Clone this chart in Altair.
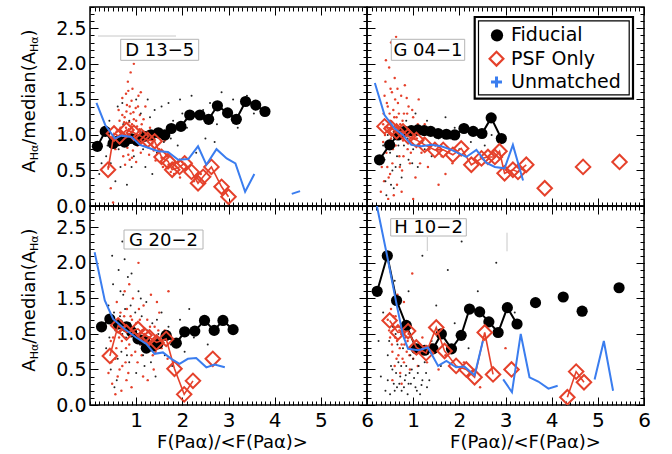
import altair as alt
import pandas as pd

FONT = "DejaVu Sans"
RED = "#e5412b"
BLUE = "#3a7def"
DOT_BLACK = "#222222"

# ---------------- data: D 13-5 ----------------
D135_fid_x = [0.16, 0.33, 0.50, 0.62, 0.75, 0.88, 1.02, 1.17, 1.32, 1.48, 1.62, 1.76, 1.97, 2.16, 2.38, 2.57, 2.76, 2.98, 3.17, 3.37, 3.59, 3.79]
D135_fid_y = [0.84, 1.05, 0.88, 0.92, 0.90, 0.95, 0.92, 0.98, 1.00, 1.03, 1.00, 1.09, 1.12, 1.28, 1.28, 1.22, 1.41, 1.31, 1.22, 1.47, 1.42, 1.33]
D135_psf_x = [0.39, 0.52, 0.64, 0.79, 0.95, 1.11, 1.25, 1.40, 1.55, 1.69, 1.78, 1.94, 2.05, 2.20, 2.34, 2.45, 2.63, 2.85, 3.00]
D135_psf_y = [0.51, 1.02, 0.98, 1.07, 1.03, 0.98, 0.93, 0.91, 0.69, 0.63, 0.51, 0.55, 0.60, 0.48, 0.32, 0.41, 0.55, 0.27, 0.13]
D135_unm_x = [0.14, 0.33, 0.54, 0.68, 0.90, 1.08, 1.26, 1.48, 1.69, 1.91, 2.13, 2.34, 2.52, 2.74, 2.96, 3.15, 3.36, 3.56, None, 4.37, 4.55]
D135_unm_y = [1.45, 1.14, 0.95, 0.99, 0.97, 0.86, 0.82, 0.77, 0.76, 0.65, 0.66, 0.84, 0.58, 0.80, 0.67, 0.60, 0.20, 0.45, None, 0.17, 0.21]
D135_red = [(0.62, 1.35), (0.70, 1.52), (0.75, 1.25), (0.78, 1.10), (0.80, 1.42), (0.83, 1.62), (0.85, 1.18), (0.87, 0.95),
            (0.88, 1.30), (0.90, 1.48), (0.92, 1.05), (0.95, 1.22), (0.97, 0.88), (0.99, 1.38), (1.02, 1.12), (1.05, 0.98),
            (1.08, 1.28), (1.10, 0.75), (1.12, 1.15), (1.15, 1.02), (0.68, 0.92), (0.72, 0.70), (0.76, 0.58), (0.81, 0.82),
            (0.86, 0.65), (0.93, 0.78), (1.00, 0.62), (1.18, 0.85), (1.22, 0.95), (1.28, 0.72), (1.35, 0.88), (1.42, 0.64),
            (1.50, 0.80), (1.58, 0.55), (1.65, 0.70), (1.75, 0.48), (1.85, 0.62), (1.95, 0.40), (2.10, 0.55), (2.25, 0.35),
            (2.40, 0.45), (0.82, 1.75), (0.95, 2.00), (0.88, 1.88), (1.05, 1.55), (0.58, 1.05), (0.64, 1.20), (0.55, 0.80),
            (0.40, 0.55), (0.45, 0.25), (0.50, 0.05), (1.20, 1.40), (1.30, 1.10), (1.45, 1.00), (0.73, 1.02), (0.79, 1.33),
            (0.91, 1.15), (1.03, 0.85), (0.74, 1.18), (0.77, 0.98), (0.84, 1.08), (0.86, 1.40), (0.89, 1.12), (0.94, 1.32),
            (0.96, 1.00), (1.00, 1.20), (1.04, 1.40), (1.07, 1.08), (1.13, 0.90), (1.16, 1.22), (0.70, 1.28), (0.66, 1.10),
            (0.60, 0.90), (0.83, 0.72), (0.91, 0.68), (1.25, 1.05), (1.38, 0.78), (1.55, 0.68), (1.62, 0.92), (1.70, 0.58),
            (1.82, 0.45), (2.00, 0.62), (0.78, 1.58), (0.92, 1.65), (1.10, 1.60)]
D135_blk = [(0.20, 0.45), (0.30, 1.00), (0.35, 0.70), (0.42, 1.20), (0.48, 0.95), (0.55, 0.35), (0.60, 1.40), (0.66, 0.55),
            (0.72, 1.15), (0.80, 0.30), (0.90, 0.55), (1.00, 1.50), (1.10, 1.30), (1.20, 0.55), (1.30, 1.25), (1.40, 1.35),
            (1.50, 1.05), (1.60, 0.90), (1.70, 1.45), (1.80, 1.20), (1.90, 0.85), (2.00, 1.30), (2.10, 1.10), (2.20, 1.55),
            (2.35, 1.25), (2.50, 0.95), (2.60, 1.45), (2.75, 1.15), (2.85, 1.60), (3.00, 1.35), (3.20, 1.10), (3.40, 1.55),
            (3.55, 1.30), (1.35, 0.45), (0.25, 0.60), (0.38, 0.85), (0.45, 0.60), (0.62, 0.80), (0.70, 1.45), (0.85, 1.20),
            (0.95, 0.70), (1.05, 1.05), (1.15, 0.80), (1.25, 1.50), (1.45, 0.75), (1.55, 1.40), (1.75, 0.95), (1.95, 1.50),
            (2.30, 0.75), (2.45, 1.35), (2.70, 0.90), (3.10, 1.50)]

# ---------------- data: G 04-1 ----------------
G041_fid_x = [0.27, 0.49, 0.67, 0.82, 0.96, 1.10, 1.24, 1.38, 1.54, 1.72, 1.90, 2.10, 2.30, 2.49, 2.69, 2.91]
G041_fid_y = [0.65, 0.86, 1.00, 1.05, 1.06, 1.07, 1.06, 1.05, 1.02, 1.01, 1.00, 1.09, 1.05, 1.02, 1.24, 0.95]
G041_psf_x = [0.38, 0.53, 0.64, 0.78, 0.89, 1.07, 1.25, 1.47, 1.65, 1.86, 2.04, 2.26, 2.48, 2.62, 2.77, 2.87, 2.98, 3.16, 3.27, 3.45, None, 3.85, None, 4.68, None, 5.47]
G041_psf_y = [1.12, 1.09, 1.05, 1.05, 0.98, 0.93, 0.86, 0.79, 0.79, 0.72, 0.81, 0.58, 0.67, 0.69, 0.69, 0.77, 0.46, 0.51, 0.48, 0.58, None, 0.25, None, 0.55, None, 0.62]
G041_unm_x = [0.17, 0.38, 0.60, 0.78, 0.96, 1.18, 1.39, 1.61, 1.83, 2.15, 2.37, 2.58, 2.77, 2.98, 3.16, 3.38]
G041_unm_y = [1.73, 1.28, 1.09, 1.00, 0.86, 0.84, 0.86, 0.84, 0.79, 0.69, 0.79, 0.61, 0.55, 0.53, 0.86, 0.36]
G041_red = [(0.30, 0.20), (0.32, 0.55), (0.35, 0.90), (0.36, 1.30), (0.38, 1.55), (0.40, 1.75), (0.42, 0.75), (0.44, 1.10),
            (0.45, 1.40), (0.47, 0.40), (0.48, 1.95), (0.50, 1.20), (0.52, 0.95), (0.54, 1.60), (0.55, 0.60), (0.57, 1.35),
            (0.58, 1.05), (0.60, 1.80), (0.62, 0.85), (0.64, 1.25), (0.65, 0.30), (0.67, 1.45), (0.68, 1.00), (0.70, 0.70),
            (0.72, 1.15), (0.74, 1.55), (0.76, 0.50), (0.78, 0.92), (0.80, 1.30), (0.82, 1.70), (0.85, 1.05), (0.88, 0.80),
            (0.90, 1.40), (0.93, 0.60), (0.96, 1.10), (1.00, 1.25), (1.05, 0.40), (1.08, 0.95), (1.12, 1.50), (1.18, 0.75),
            (1.25, 1.15), (1.32, 0.55), (1.40, 1.00), (1.48, 0.85), (1.55, 0.30), (1.62, 0.70), (1.70, 0.45), (1.85, 0.60),
            (0.41, 2.05), (0.52, 2.30), (0.63, 2.38), (0.46, 0.10), (0.58, 0.15), (0.75, 0.20), (1.00, 0.10), (0.86, 1.52),
            (0.66, 1.65), (0.35, 1.15), (0.39, 1.00), (0.43, 1.45), (0.46, 0.85), (0.49, 1.30), (0.51, 1.65), (0.53, 1.10),
            (0.56, 0.80), (0.59, 1.25), (0.61, 1.50), (0.63, 1.10), (0.66, 0.95), (0.69, 1.30), (0.71, 0.55), (0.73, 0.95),
            (0.77, 1.20), (0.79, 0.70), (0.83, 1.00), (0.87, 1.30), (0.91, 0.90), (0.95, 0.75), (0.98, 1.35), (1.03, 0.95),
            (1.10, 1.15), (1.15, 0.60), (1.22, 0.95), (1.35, 0.80), (0.37, 0.35), (0.44, 0.55), (0.50, 0.45)]
G041_blk = [(0.30, 0.60), (0.35, 0.85), (0.40, 0.35), (0.45, 1.00), (0.50, 0.75), (0.55, 0.50), (0.60, 0.95), (0.65, 0.70),
            (0.70, 1.10), (0.75, 0.40), (0.80, 0.85), (0.85, 1.20), (0.90, 0.65), (0.95, 1.00), (1.00, 0.80), (1.05, 1.30),
            (1.10, 0.55), (1.15, 1.10), (1.20, 0.90), (1.30, 1.20), (1.40, 0.70), (1.50, 1.05), (1.60, 0.85), (1.70, 1.25),
            (1.80, 0.95), (1.90, 1.10), (2.00, 0.80), (2.10, 1.15), (2.25, 0.90), (2.40, 1.05), (2.55, 0.85), (2.70, 1.00),
            (0.58, 0.25), (0.72, 0.58), (0.38, 0.65), (0.48, 1.15), (0.52, 0.30), (0.62, 0.55), (0.68, 0.85), (0.78, 1.05),
            (0.88, 0.95), (0.98, 0.60), (1.08, 1.00), (1.25, 0.80), (1.35, 1.00), (1.55, 0.95), (1.75, 1.05), (2.20, 1.10),
            (0.42, 0.15)]

# ---------------- data: G 20-2 ----------------
G202_fid_x = [0.25, 0.43, 0.61, 0.79, 0.90, 1.04, 1.18, 1.22, 1.36, 1.47, 1.65, 1.87, 2.05, 2.27, 2.48, 2.69, 2.88, 3.10]
G202_fid_y = [1.10, 1.21, 1.14, 1.10, 1.03, 0.93, 0.91, 0.80, 0.83, 0.86, 0.98, 0.87, 1.03, 1.04, 1.19, 1.05, 1.19, 1.06]
G202_psf_x = [0.43, 0.61, 0.79, 1.04, 1.18, 1.29, 1.44, 1.65, 1.83, 2.04, 2.23, None, 2.66]
G202_psf_y = [0.69, 1.12, 1.02, 1.07, 0.98, 0.95, 0.88, 0.93, 0.51, 0.15, 0.34, None, 0.65]
G202_unm_x = [0.10, 0.32, 0.50, 0.75, 1.00, 1.22, 1.40, 1.58, 1.76, 1.94, 2.12, 2.30, 2.52, 2.70, 2.92]
G202_unm_y = [2.15, 1.47, 1.21, 1.07, 0.95, 0.86, 0.72, 0.74, 0.65, 0.58, 0.65, 0.66, 0.53, 0.57, 0.53]
G202_red = [(0.40, 0.45), (0.45, 0.90), (0.48, 0.30), (0.52, 1.20), (0.55, 0.65), (0.58, 1.45), (0.60, 0.40), (0.63, 0.95),
            (0.66, 1.30), (0.70, 0.55), (0.72, 1.10), (0.75, 1.60), (0.78, 0.80), (0.80, 1.35), (0.83, 0.45), (0.86, 1.05),
            (0.88, 1.25), (0.90, 0.70), (0.93, 1.50), (0.96, 0.95), (1.00, 1.15), (1.03, 0.60), (1.06, 1.35), (1.10, 0.85),
            (1.13, 1.05), (1.16, 1.40), (1.20, 0.75), (1.24, 1.20), (1.28, 0.95), (1.32, 1.55), (1.36, 0.70), (1.40, 1.10),
            (1.45, 0.90), (1.50, 1.30), (1.55, 0.80), (1.62, 1.05), (1.68, 0.65), (1.75, 0.95), (1.70, 1.60), (1.05, 2.00),
            (0.85, 1.70), (0.68, 0.20), (0.90, 0.25), (1.15, 0.40), (0.55, 0.15), (1.38, 0.50), (1.25, 0.35), (0.50, 0.95),
            (0.57, 0.80), (0.62, 1.10), (0.69, 0.90), (0.74, 1.25), (0.77, 0.60), (0.82, 1.05), (0.85, 0.85), (0.91, 1.20),
            (0.98, 0.75), (1.02, 1.00), (1.08, 1.20), (1.12, 0.70), (1.18, 1.00), (1.22, 0.85), (1.30, 1.10), (1.34, 0.85),
            (1.42, 0.75), (1.48, 1.05), (1.58, 0.95), (0.46, 0.60), (0.64, 0.50), (0.79, 0.35), (1.45, 1.45)]
G202_blk = [(0.35, 0.80), (0.40, 1.40), (0.45, 0.50), (0.50, 1.70), (0.55, 1.05), (0.58, 0.35), (0.62, 1.90), (0.65, 1.25),
            (0.68, 0.75), (0.72, 1.55), (0.75, 2.05), (0.78, 0.95), (0.82, 1.80), (0.85, 0.60), (0.88, 1.40), (0.92, 2.25),
            (0.95, 1.10), (1.00, 0.45), (1.05, 1.60), (1.08, 0.85), (1.12, 1.25), (1.18, 0.55), (1.22, 1.45), (1.28, 0.80),
            (1.35, 1.15), (1.42, 0.40), (1.48, 1.00), (1.55, 1.30), (1.62, 0.70), (1.70, 1.10), (1.78, 0.55), (1.85, 0.90),
            (1.95, 1.20), (2.05, 0.75), (2.15, 1.35), (2.25, 0.95), (2.40, 1.15), (2.55, 0.85), (0.30, 1.10), (0.48, 2.10),
            (0.42, 0.95), (0.52, 1.30), (0.60, 0.65), (0.66, 1.60), (0.70, 1.00), (0.76, 1.35), (0.80, 0.70), (0.86, 1.15),
            (0.90, 1.85), (0.98, 1.30), (1.02, 0.90), (1.10, 1.50), (1.15, 0.70), (1.25, 1.05), (1.32, 0.60), (1.45, 1.20),
            (1.60, 1.00), (1.75, 0.85), (0.53, 0.25), (0.70, 2.30)]

# ---------------- data: H 10-2 ----------------
H102_fid_x = [0.22, 0.44, 0.64, 0.85, 1.07, 1.25, 1.43, 1.61, 1.83, 2.04, 2.22, 2.44, 2.64, 2.84, 3.04, 3.25, None, 3.65, None, 4.25, None, 4.66, None, 5.46]
H102_fid_y = [1.60, 2.10, 1.47, 1.12, 0.79, 0.77, 0.79, 1.00, 0.79, 0.98, 1.35, 1.31, 1.17, 1.02, 1.37, 1.14, None, 1.44, None, 1.52, None, 1.32, None, 1.65]
H102_psf_x = [0.49, 0.67, 0.89, 1.07, 1.28, 1.50, 1.68, 1.93, 2.15, 2.33, 2.55, 2.73, None, 3.13, None, 4.34, 4.53, 4.70]
H102_psf_y = [1.19, 1.02, 1.04, 0.81, 0.73, 1.09, 0.76, 0.55, 0.50, 0.39, 1.02, 0.43, None, 0.50, None, 0.11, 0.47, 0.32]
H102_unm_x = [0.14, 0.24, 0.42, 0.64, 0.78, 0.89, 1.11, 1.32, 1.54, 1.72, 1.93, 2.11, 2.33, 2.51, None, 2.95, 3.14, 3.33, 3.52, 3.71, 3.93, 4.13, None, 4.93, 5.13, 5.33]
H102_unm_y = [3.04, 2.72, 2.15, 1.42, 0.98, 0.79, 0.77, 0.81, 0.55, 0.62, 0.53, 0.54, 0.42, 0.90, None, 0.36, 0.18, 1.00, 0.39, 0.33, 0.23, 0.27, None, 0.36, 0.90, 0.20]
H102_red = [(0.45, 1.20), (0.50, 0.95), (0.52, 1.35), (0.55, 0.75), (0.58, 1.10), (0.60, 0.55), (0.62, 1.25), (0.65, 0.90),
            (0.68, 0.70), (0.70, 1.05), (0.72, 0.45), (0.75, 0.85), (0.78, 1.15), (0.80, 0.60), (0.83, 0.95), (0.86, 0.75),
            (0.90, 1.00), (0.93, 0.50), (0.96, 0.80), (1.00, 0.65), (1.05, 0.90), (1.10, 0.55), (1.15, 0.75), (1.20, 0.95),
            (1.30, 0.60), (1.40, 0.85), (1.55, 0.50), (1.70, 0.70), (0.66, 1.55), (0.80, 1.45), (0.98, 1.85), (1.20, 2.40),
            (2.10, 0.60), (2.45, 0.25), (3.00, 0.80), (0.55, 0.35), (0.75, 0.30), (0.48, 1.05), (0.54, 0.85), (0.57, 1.25),
            (0.61, 0.95), (0.64, 0.65), (0.67, 1.10), (0.71, 0.80), (0.74, 1.00), (0.77, 0.65), (0.81, 0.85), (0.88, 0.90),
            (0.92, 0.70), (1.02, 0.80), (1.12, 0.85)]
H102_blk = [(0.25, 0.90), (0.30, 0.40), (0.35, 1.30), (0.40, 0.20), (0.45, 0.70), (0.50, 0.15), (0.55, 0.50), (0.58, 0.30),
            (0.62, 1.00), (0.65, 0.25), (0.68, 0.60), (0.72, 0.40), (0.75, 0.20), (0.78, 0.80), (0.82, 0.35), (0.85, 0.55),
            (0.88, 0.15), (0.92, 0.45), (0.95, 0.30), (1.00, 0.65), (1.05, 0.25), (1.10, 0.45), (1.15, 0.15), (1.20, 0.35),
            (1.25, 0.60), (1.30, 0.25), (1.40, 0.90), (1.50, 1.40), (1.60, 0.55), (1.75, 1.90), (1.90, 1.15), (2.05, 2.30),
            (2.20, 0.80), (2.40, 1.60), (2.80, 2.00), (3.20, 1.30), (0.90, 1.60), (1.20, 2.10), (0.60, 1.75), (0.45, 0.35),
            (0.52, 0.55), (0.60, 0.20), (0.63, 0.45), (0.70, 0.30), (0.74, 0.55), (0.80, 0.25), (0.84, 0.42), (0.90, 0.30),
            (0.97, 0.50), (1.02, 0.38), (1.08, 0.20), (1.12, 0.55), (1.18, 0.28), (1.28, 0.45), (0.48, 0.90), (0.56, 1.10),
            (0.66, 0.85), (0.94, 0.70), (1.35, 0.35)]

# ---------------- ticks / labels ----------------
X_LABEL_TICKS = [1, 2, 3, 4, 5, 6]
X_MINOR = [i / 10 for i in range(61)]
Y_LABEL_TICKS = [0.0, 0.5, 1.0, 1.5, 2.0, 2.5]
Y_MINOR = [i / 10 for i in range(29)]
X_TITLE = "F(Paα)/<F(Paα)>"
LEGEND = ["Fiducial", "PSF Only", "Unmatched"]

W, H = 277, 199
XS = alt.Scale(domain=[0, 6], nice=False, zero=False)
YS = alt.Scale(domain=[0, 2.8], nice=False, zero=False)
MAJ, MIN = 8, 4
ONE = pd.DataFrame({"k": [0]})


def line_df(xs, ys):
    rows, seg = [], 0
    for x, y in zip(xs, ys):
        if x is None or y is None:
            seg += 1
            continue
        rows.append({"x": x, "y": y, "seg": seg})
    return pd.DataFrame(rows)


def pts_df(pairs):
    return pd.DataFrame({"x": [p[0] for p in pairs], "y": [p[1] for p in pairs]})


def enc(ch, **kw):
    return ch.encode(x=alt.X("x:Q", scale=XS, axis=None), y=alt.Y("y:Q", scale=YS, axis=None), **kw)


def axis(orient, values, size, **extra):
    kw = dict(orient=orient, values=values, tickSize=size, offset=-size, domain=False, grid=False,
              ticks=True, tickColor="black", tickWidth=1, labels=False, title=None)
    kw.update(extra)
    return alt.Axis(**kw)


def holder(df, xaxis, yaxis):
    return alt.Chart(df).mark_point(opacity=0).encode(
        x=alt.X("x:Q", scale=XS, axis=xaxis), y=alt.Y("y:Q", scale=YS, axis=yaxis))


def rect(x1, x2, y1, y2, **kw):
    return alt.Chart(ONE).mark_rect(**kw).encode(
        x=alt.value(x1), x2=alt.value(x2), y=alt.value(y1), y2=alt.value(y2))


def rule(x1, x2, y1, y2, **kw):
    return alt.Chart(ONE).mark_rule(**kw).encode(
        x=alt.value(x1), x2=alt.value(x2), y=alt.value(y1), y2=alt.value(y2))


def text(s, x, y, **kw):
    return alt.Chart(ONE).mark_text(**kw).encode(x=alt.value(x), y=alt.value(y), text=alt.value(s))


# character widths (em) of DejaVu Sans used to lay out the composite y title
WID = {"A": 0.684, "H": 0.752, "α": 0.659, "/": 0.337, "m": 0.974, "e": 0.615, "d": 0.635,
       "i": 0.278, "a": 0.613, "n": 0.634, "(": 0.390, ")": 0.390}


def ytitle_layers():
    big, small = 18, 11
    pieces = [("A", big, 0), ("Hα", small, 3), ("/median(", big, 0), ("A", big, 0), ("Hα", small, 3), (")", big, 0)]
    lens = [sum(WID[c] for c in s) * fs for s, fs, _ in pieces]
    total = sum(lens)
    pos = 94 + total / 2
    out = []
    for (s, fs, dxs), ln in zip(pieces, lens):
        out.append(text(s, -55 + dxs, pos, angle=270, align="left", baseline="alphabetic",
                        font=FONT, fontSize=fs, color="black"))
        pos -= ln
    return out


def panel(name, fx, fy, px, py, ux, uy, red, blk, box, left, bottom, title_x=None, extra=()):
    fid = line_df(fx, fy)
    psf = line_df(px, py)
    unm = line_df(ux, uy)
    layers = []
    xb_kw = {}
    if bottom:
        xb_kw = dict(labels=True, labelFont=FONT, labelFontSize=20, labelColor="black", labelFlush=False,
                     labelOverlap=False, labelBaseline="middle", labelPadding=15, format="d",
                     title=X_TITLE, titleFont=FONT, titleFontSize=18, titleFontWeight="normal",
                     titleColor="black", titleX=title_x, titleY=45, titleBaseline="middle")
    yl_kw = {}
    if left:
        yl_kw = dict(labels=True, labelFont=FONT, labelFontSize=19, labelColor="black",
                     labelPadding=4, format=".1f", labelOverlap=False, labelFlush=False)
    layers.append(holder(fid, axis("bottom", X_LABEL_TICKS, MAJ, **xb_kw), axis("left", Y_LABEL_TICKS, MAJ, **yl_kw)))
    layers.append(holder(fid, axis("top", X_LABEL_TICKS, MAJ), axis("right", Y_LABEL_TICKS, MAJ)))
    layers.append(holder(fid, axis("bottom", X_MINOR, MIN), axis("left", Y_MINOR, MIN)))
    layers.append(holder(fid, axis("top", X_MINOR, MIN), axis("right", Y_MINOR, MIN)))
    layers.append(enc(alt.Chart(pts_df(red)).mark_circle(size=6, color=RED, opacity=1)))
    layers.append(enc(alt.Chart(pts_df(blk)).mark_circle(size=4, color=DOT_BLACK, opacity=1)))
    layers.append(enc(alt.Chart(fid).mark_line(color="black", strokeWidth=2, clip=True), detail="seg:N"))
    layers.append(enc(alt.Chart(fid).mark_circle(size=125, color="black", opacity=1, clip=True)))
    layers.append(enc(alt.Chart(psf).mark_line(color=RED, strokeWidth=1.6, clip=True), detail="seg:N"))
    layers.append(enc(alt.Chart(psf).mark_point(shape="diamond", size=210, color=RED, filled=False,
                                                strokeWidth=2, opacity=1, clip=True)))
    layers.append(enc(alt.Chart(unm).mark_line(color=BLUE, strokeWidth=2, clip=True), detail="seg:N"))
    x1, x2, y1, y2 = box
    layers.append(rect(x1, x2, y1, y2, fill="white", stroke="#b4b4b4", strokeWidth=1))
    layers.append(text(name, (x1 + x2) / 2, (y1 + y2) / 2 + 1, align="center", baseline="middle",
                       font=FONT, fontSize=18, color="black"))
    layers.extend(extra)
    if left:
        layers.extend(ytitle_layers())
    return alt.layer(*layers).resolve_axis(x="independent", y="independent").properties(width=W, height=H)


legend_layers = [
    rect(107.7, 266, 10, 91.7, fill="white", stroke="black", strokeWidth=2.2),
    rect(111.5, 262.2, 13.8, 87.9, fill="white", stroke="black", strokeWidth=1.2),
    alt.Chart(ONE).mark_point(shape="circle", filled=True, size=150, color="black", opacity=1).encode(
        x=alt.value(130), y=alt.value(28.3)),
    alt.Chart(ONE).mark_point(shape="diamond", filled=False, size=190, color=RED, strokeWidth=2.2, opacity=1).encode(
        x=alt.value(129.5), y=alt.value(51.7)),
    alt.Chart(ONE).mark_point(shape="M-1,0H1M0,-1V1", filled=False, size=120, color=BLUE, strokeWidth=3,
                              opacity=1).encode(x=alt.value(129.5), y=alt.value(75)),
]
for i, lab in enumerate(LEGEND):
    legend_layers.append(text(lab, 144, 28.3 + 23.35 * i, align="left", baseline="middle",
                              font=FONT, fontSize=19, color="black"))

d135_extra = [rule(8, 86, 29, 29, color="#c8c8c8", strokeWidth=1)]
h102_extra = [rule(60.3, 60.3, 31, 45, color="#c8c8c8", strokeWidth=1),
              rule(140, 140, 26.7, 45.3, color="#c8c8c8", strokeWidth=1)]

p1 = panel("D 13−5", D135_fid_x, D135_fid_y, D135_psf_x, D135_psf_y, D135_unm_x, D135_unm_y,
           D135_red, D135_blk, (30.7, 108.7, 32.3, 53.3), left=True, bottom=False, extra=d135_extra)
p2 = panel("G 04−1", G041_fid_x, G041_fid_y, G041_psf_x, G041_psf_y, G041_unm_x, G041_unm_y,
           G041_red, G041_blk, (24.3, 97.7, 32.3, 53.3), left=False, bottom=False, extra=legend_layers)
p3 = panel("G 20−2", G202_fid_x, G202_fid_y, G202_psf_x, G202_psf_y, G202_unm_x, G202_unm_y,
           G202_red, G202_blk, (34, 113, 24, 43), left=True, bottom=True, title_x=142)
p4 = panel("H 10−2", H102_fid_x, H102_fid_y, H102_psf_x, H102_psf_y, H102_unm_x, H102_unm_y,
           H102_red, H102_blk, (23.7, 99.3, 12.7, 30), left=False, bottom=True, title_x=158, extra=h102_extra)

chart = alt.concat(p1, p2, p3, p4, columns=2, spacing=0, bounds="flush").properties(
    padding={"left": 20, "top": 5, "right": 5, "bottom": 5}, background="white"
).configure_view(stroke="black", strokeWidth=1.5)

chart.save("out.html", embed_options={"renderer": "svg", "actions": False})
